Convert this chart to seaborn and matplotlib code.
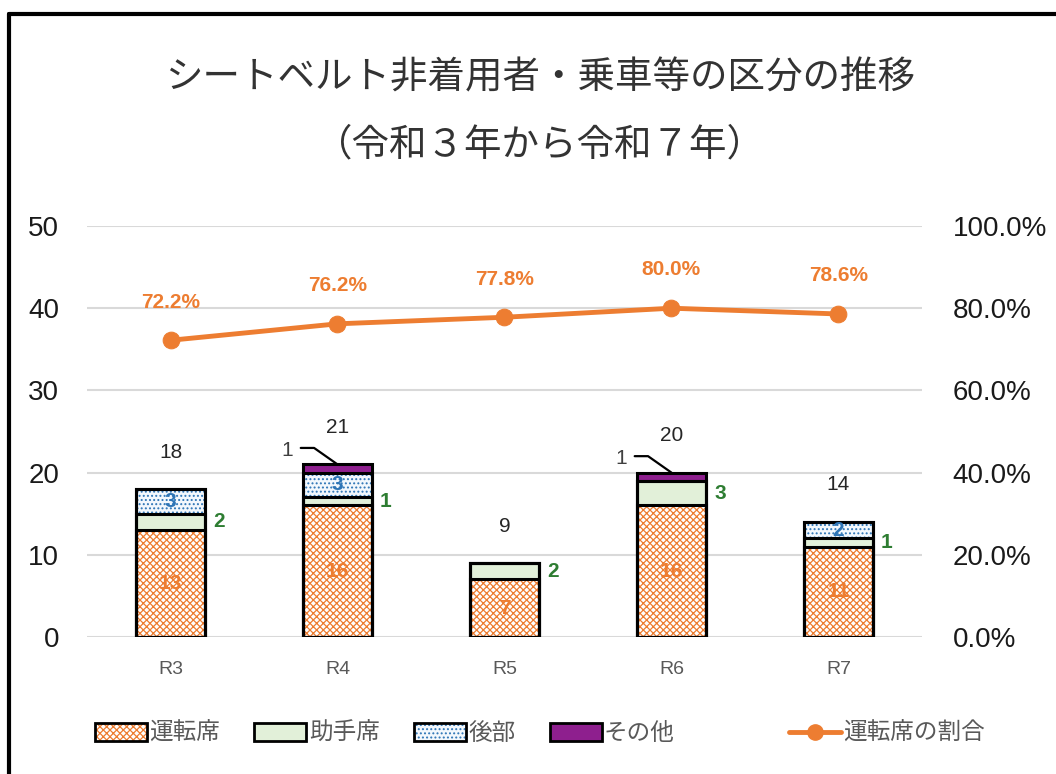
import numpy as np
import matplotlib
matplotlib.use("Agg")
import matplotlib.pyplot as plt
import seaborn as sns
from matplotlib.patches import Patch
from matplotlib.lines import Line2D
from matplotlib.legend_handler import HandlerTuple
from matplotlib.ticker import FuncFormatter

# data
years = ["R3", "R4", "R5", "R6", "R7"]
driver = [13, 16, 7, 16, 11]       # 運転席
passenger = [2, 1, 2, 3, 1]        # 助手席
rear = [3, 3, 0, 0, 2]             # 後部
other = [0, 1, 0, 1, 0]            # その他
driver_ratio = [72.2, 76.2, 77.8, 80.0, 78.6]  # 運転席の割合 (%)

series_names = ["運転席", "助手席", "後部", "その他"]
ratio_name = "運転席の割合"
title = "シートベルト非着用者・乗車等の区分の推移\n（令和３年から令和７年）"

sns.set_style("white")
plt.rcParams["font.family"] = ["Liberation Sans", "Noto Sans CJK JP", "DejaVu Sans"]
plt.rcParams["hatch.linewidth"] = 0.9

ORANGE = "#ED7D31"
GREEN_FILL = "#E2F0D9"
GREEN_TXT = "#2E7D32"
BLUE_TXT = "#2E75B6"
PURPLE = "#8E1F8E"
DOT_FILL = "#F3F8FD"
CROSS = "xxxxx"
DOTS = "...."
BAR_W = 0.41

fig = plt.figure(figsize=(10.56, 7.74), dpi=100)
ax = fig.add_axes([0.0824, 0.177, 0.7906, 0.531])
ax2 = ax.twinx()

drv = np.array(driver)
cum2 = drv + np.array(passenger)
cum3 = cum2 + np.array(rear)
total = cum3 + np.array(other)

# stacked bars: draw cumulative heights from the top layer down
layers = [
    (total, dict(color=PURPLE, edgecolor=PURPLE)),
    (cum3, dict(color=DOT_FILL, edgecolor=BLUE_TXT, hatch=DOTS)),
    (cum2, dict(color=GREEN_FILL, edgecolor=GREEN_FILL)),
    (drv, dict(color="white", edgecolor=ORANGE, hatch=CROSS)),
]
for heights, style in layers:
    sns.barplot(x=years, y=heights, width=BAR_W, saturation=1, errorbar=None,
                linewidth=0, ax=ax, zorder=2, **style)
    sns.barplot(x=years, y=heights, width=BAR_W, errorbar=None, fill=False,
                color="black", linewidth=2.2, ax=ax, zorder=3)

ax.set_ylim(0, 50)
ax.set_yticks(range(0, 51, 10))
ax.yaxis.grid(True, color="#D9D9D9", linewidth=1.5)
ax.set_axisbelow(True)
ax.set_xlabel("")
ax.set_ylabel("")
ax.tick_params(axis="y", length=0, pad=20, labelsize=20, labelcolor="#1a1a1a")
ax.tick_params(axis="x", length=0, pad=17, labelsize=14, labelcolor="#595959")
for s in ax.spines.values():
    s.set_visible(False)

# segment labels
xpos = np.arange(len(years))
for i in xpos:
    ax.text(i, drv[i] / 2, str(driver[i]), ha="center", va="center",
            color=ORANGE, fontsize=15, fontweight="bold", zorder=5)
    ax.text(i + 0.29, drv[i] + passenger[i] / 2, str(passenger[i]), ha="center",
            va="center", color=GREEN_TXT, fontsize=15, fontweight="bold", zorder=5)
    if rear[i]:
        ax.text(i, cum2[i] + rear[i] / 2, str(rear[i]), ha="center", va="center",
                color=BLUE_TXT, fontsize=15, fontweight="bold", zorder=5)
    if other[i]:
        ty = total[i] + 1.7
        ax.text(i - 0.3, ty, str(other[i]), ha="center", va="center",
                color="#404040", fontsize=15, zorder=5)
        ax.plot([i - 0.22, i - 0.14, i], [ty + 0.3, ty + 0.3, total[i]],
                color="black", linewidth=1.6, zorder=5, clip_on=False)
    ax.text(i, total[i] + 4.5, str(total[i]), ha="center", va="center",
            color="#262626", fontsize=15, zorder=5)

# ratio line on secondary axis
sns.lineplot(x=xpos, y=driver_ratio, color=ORANGE, linewidth=3.5, marker="o",
             markersize=12, markeredgecolor=ORANGE, ax=ax2)
for i, v in zip(xpos, driver_ratio):
    ax2.text(i, v + 9.3, f"{v:.1f}%", ha="center", va="center", color=ORANGE,
             fontsize=15, fontweight="bold")
ax2.set_ylim(0, 100)
ax2.set_yticks(range(0, 101, 20))
ax2.yaxis.set_major_formatter(FuncFormatter(lambda v, p: f"{v:.1f}%"))
ax2.tick_params(axis="y", length=0, pad=22, labelsize=20, labelcolor="#1a1a1a")
ax2.set_ylabel("")
ax2.grid(False)
for s in ax2.spines.values():
    s.set_visible(False)
ax.set_xlim(-0.5, len(years) - 0.5)

# title
fig.text(0.511, 0.855, title, ha="center", va="center", fontsize=27,
         color="#333333", linespacing=2.1)

# legends
def outline():
    return Patch(facecolor="none", edgecolor="black", linewidth=2)

bar_handles = [
    (Patch(facecolor="white", edgecolor=ORANGE, hatch=CROSS, linewidth=0), outline()),
    (Patch(facecolor=GREEN_FILL, edgecolor=GREEN_FILL, linewidth=0), outline()),
    (Patch(facecolor=DOT_FILL, edgecolor=BLUE_TXT, hatch=DOTS, linewidth=0), outline()),
    (Patch(facecolor=PURPLE, edgecolor=PURPLE, linewidth=0), outline()),
]
legend_kw = dict(loc="center left", frameon=False, fontsize=17,
                 labelcolor="#595959", handlelength=2.2, handletextpad=0.1,
                 borderpad=0, borderaxespad=0)
fig.legend(bar_handles, series_names, bbox_to_anchor=(0.09, 0.052), ncol=4,
           handleheight=0.8, columnspacing=1.45,
           handler_map={tuple: HandlerTuple(ndivide=1)}, **legend_kw)
line_handle = Line2D([], [], color=ORANGE, linewidth=3.5, marker="o", markersize=11)
fig.legend([line_handle], [ratio_name], bbox_to_anchor=(0.747, 0.052), **legend_kw)

# partial outer frame (left and top edges)
fx = 9 / 1056
fy = 1 - 14 / 774
fig.add_artist(Line2D([fx, fx], [0, fy], color="black", linewidth=3,
                      transform=fig.transFigure))
fig.add_artist(Line2D([fx, 1], [fy, fy], color="black", linewidth=3,
                      transform=fig.transFigure))

fig.savefig("out.png", dpi=100, facecolor="white")
